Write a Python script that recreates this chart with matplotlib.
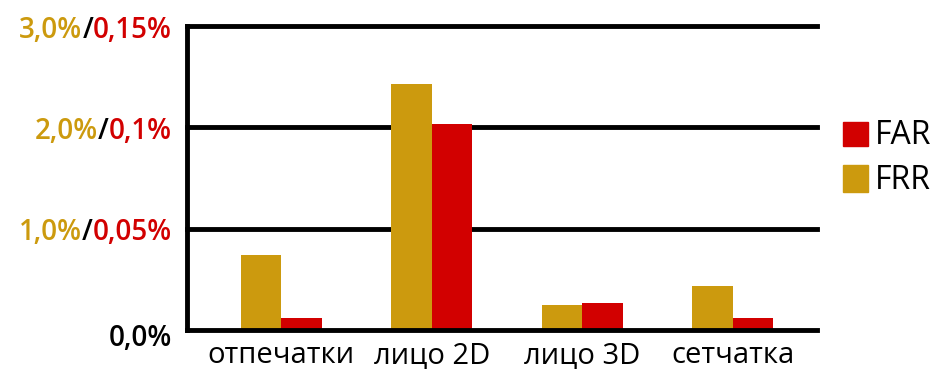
import matplotlib
matplotlib.use("Agg")
import matplotlib.pyplot as plt
from matplotlib.patches import Rectangle
import numpy as np

plt.rcParams["font.family"] = ["Open Sans", "DejaVu Sans"]

categories = ["отпечатки", "лицо 2D", "лицо 3D", "сетчатка"]
frr = [0.74, 2.43, 0.25, 0.43]          # % (left scale)
far = [0.006, 0.1015, 0.0135, 0.006]    # % (right scale, 0.05% per 1%)
frr_ticks = ["0,0%", "1,0%", "2,0%", "3,0%"]
far_ticks = ["", "0,05%", "0,1%", "0,15%"]

GOLD = "#CC9A0E"
RED = "#D20000"
far_scale = 20  # 0.15% FAR aligns with 3.0% FRR

fig = plt.figure(figsize=(9.5, 3.72), dpi=100)
ax = fig.add_axes([0.197, 0.113, 0.663, 0.817])

x = np.arange(len(categories))
w = 0.27
ax.bar(x - w / 2, frr, w, color=GOLD, zorder=2, label="FRR")
ax.bar(x + w / 2, np.array(far) * far_scale, w, color=RED, zorder=2, label="FAR")

ax.set_xlim(-0.625, 3.56)
ax.set_ylim(0, 3.0)
for s in ["top", "right"]:
    ax.spines[s].set_visible(False)
ax.spines["left"].set_linewidth(3.5)
ax.spines["bottom"].set_linewidth(3.5)
ax.spines["left"].set_bounds(0, 3.0)
for y in [1, 2, 3]:
    ax.axhline(y, color="black", lw=3.5, zorder=1, clip_on=False)

ax.set_yticks([])
ax.set_xticks(x)
ax.set_xticklabels(categories, fontsize=21)
ax.tick_params(axis="x", length=0, pad=8)

# two-colour y labels
lab = dict(fontsize=20, fontweight="semibold", va="center")
for i, (a, b) in enumerate(zip(frr_ticks, far_ticks)):
    if b:
        t = ax.text(-0.024, i - 0.04, b, transform=ax.get_yaxis_transform(), ha="right",
                    color=RED, **lab)
        s = ax.annotate("/", xy=(0, 0.5), xycoords=t, ha="right", color="black", **lab)
        ax.annotate(a, xy=(0, 0.5), xycoords=s, ha="right", color=GOLD, **lab)
    else:
        ax.text(-0.024, i - 0.08, a, transform=ax.get_yaxis_transform(), ha="right",
                color="black", **lab)

# legend
fig.add_artist(Rectangle((0.887, 0.6075), 0.027, 0.0645, color=RED, transform=fig.transFigure))
fig.add_artist(Rectangle((0.887, 0.484), 0.027, 0.072, color=GOLD, transform=fig.transFigure))
fig.text(0.921, 0.636, "FAR", color="black", fontsize=23, va="center", ha="left")
fig.text(0.921, 0.516, "FRR", color="black", fontsize=23, va="center", ha="left")

fig.savefig("out.png", dpi=100)
